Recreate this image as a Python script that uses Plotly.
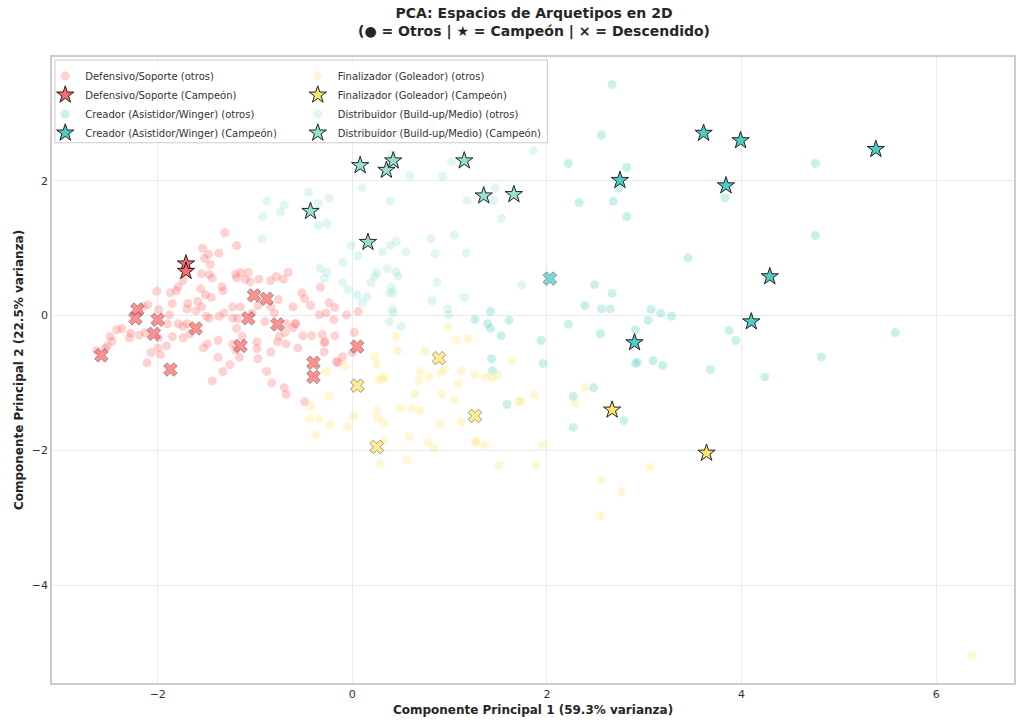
import plotly.graph_objects as go

# ---------------- data (PCA coordinates) ----------------
def_otros_x = [-1.31,-1.19,-1.54,-1.48,-1.37,-1.52,-1.46,-1.74,-1.55,-1.47,-1.44,-1.20,-1.15,-1.07,-1.19,-1.10,-1.05,-0.96,-0.84,-0.78,-0.71,-0.66,
               -2.01,-1.87,-1.79,-1.81,-1.56,-1.51,-1.45,-1.34,-1.33,-1.85,-1.69,-1.59,-1.55,-1.61,-1.70,-2.10,-2.15,-1.99,-1.88,-1.90,-1.79,-1.74,-1.70,
               -1.50,-1.47,-1.37,-1.32,-1.23,-1.15,-1.23,-1.18,-1.03,-0.97,-0.84,-0.80,-0.76,-0.61,-0.52,-0.49,-0.43,-0.33,-0.24,-0.18,-0.34,-0.27,-0.19,
               -0.06,0.06,0.02,-2.42,-2.37,-2.49,-2.47,-2.52,-2.63,-2.54,-2.28,-2.29,-2.19,-2.13,-1.99,-2.00,-1.91,-1.97,-2.07,-2.11,-1.85,-1.74,-1.67,
               -1.53,-1.49,-1.38,-1.38,-1.26,-1.33,-1.44,-1.23,-1.19,-1.13,-1.20,-1.16,-0.98,-0.98,-0.97,-0.88,-0.83,-0.84,-0.90,-0.75,-0.77,-0.68,-0.69,
               -0.61,-0.58,-0.56,-0.70,-0.68,-0.49,-0.51,-0.42,-0.31,-0.28,-0.29,-0.18,-0.10,-0.15,0.00,-0.68,-0.59,-0.29,-0.16]
def_otros_y = [1.23,1.04,1.00,0.91,0.93,0.85,0.76,0.52,0.62,0.61,0.56,0.61,0.64,0.64,0.56,0.54,0.50,0.54,0.52,0.58,0.54,0.64,
               0.36,0.34,0.43,0.37,0.40,0.31,0.27,0.43,0.37,0.18,0.18,0.21,0.13,0.07,0.10,0.16,0.13,0.09,0.01,-0.12,-0.12,-0.16,-0.12,
               -0.01,-0.04,-0.01,0.04,0.13,0.13,-0.04,-0.04,0.04,0.15,0.13,0.04,0.24,0.13,0.34,0.25,0.15,0.42,0.19,0.12,0.01,0.04,-0.06,
               0.01,0.06,-0.25,-0.21,-0.19,-0.31,-0.38,-0.45,-0.52,-0.49,-0.26,-0.33,-0.29,-0.25,-0.33,-0.48,-0.45,-0.58,-0.55,-0.70,-0.31,-0.33,-0.27,
               -0.48,-0.42,-0.37,-0.62,-0.73,-0.83,-0.97,-0.42,-0.19,-0.31,-0.51,-0.62,-0.39,-0.49,-0.64,-0.83,-1.00,-0.54,-0.09,-0.31,-0.39,-0.42,-0.25,
               -0.18,-0.12,-0.48,-1.07,-1.17,-1.28,-0.30,-0.30,-0.28,-0.39,-0.54,-0.30,-0.61,-0.70,-0.55,-0.12,-0.12,-0.40,-0.68]
def_camp_x = [-1.71, -1.71]
def_camp_y = [0.77, 0.66]
def_desc_x = [-2.21,-2.23,-2.00,-2.04,-1.61,-2.58,-1.87,-1.01,-0.88,-1.07,-0.77,-1.15,-0.40,-0.40,0.05]
def_desc_y = [0.09,-0.04,-0.06,-0.27,-0.19,-0.59,-0.80,0.30,0.25,-0.04,-0.13,-0.45,-0.70,-0.91,-0.46]

fin_otros_x = [0.98,0.45,1.07,1.19,0.75,0.47,0.23,0.25,-0.08,-0.27,0.27,0.33,0.31,0.70,0.79,0.68,0.91,0.95,1.12,1.26,1.09,1.37,1.44,1.49,
               1.64,0.64,0.92,1.05,-0.24,-0.43,-0.44,-0.34,-0.23,-0.37,-0.05,0.01,0.25,0.26,0.33,0.49,0.61,0.69,0.90,1.12,0.58,0.32,0.78,0.84,
               1.27,1.27,1.36,1.73,1.87,1.96,0.29,0.56,1.51,1.89,2.56,2.77,2.55,2.39,2.29,3.06,1.71,6.37]
fin_otros_y = [-0.17,-0.31,-0.37,-0.34,-0.52,-0.52,-0.61,-0.73,-0.74,-0.83,-0.95,-0.91,-0.94,-0.83,-0.91,-0.96,-0.85,-0.79,-0.82,-0.88,-1.01,-0.91,-0.93,-0.88,
               -0.67,-1.16,-1.16,-1.25,-1.20,-1.35,-1.53,-1.53,-1.62,-1.77,-1.65,-1.49,-1.41,-1.53,-1.59,-1.37,-1.38,-1.41,-1.61,-1.58,-1.80,-1.87,-1.89,-1.97,
               -1.86,-1.89,-1.93,-1.27,-1.18,-1.92,-2.20,-2.14,-2.23,-2.22,-2.44,-2.62,-2.97,-1.06,-1.30,-2.25,-1.27,-5.05]
fin_camp_x = [2.67, 3.64]
fin_camp_y = [-1.40, -2.04]
fin_desc_x = [0.05, 0.89, 1.26, 0.25]
fin_desc_y = [-1.04, -0.63, -1.49, -1.95]

cre_otros_x = [2.67,2.56,2.22,2.82,2.74,2.33,2.68,2.82,3.83,4.76,4.76,3.45,2.49,2.67,2.39,2.56,2.65,3.07,3.17,3.28,3.04,2.22,2.55,2.91,
               3.87,3.94,5.58,1.94,1.96,2.91,2.93,3.09,3.19,3.68,4.82,4.24,2.48,2.27,2.79,2.27,1.26,1.42,1.39,1.42,1.61,1.53,1.43,1.44,1.59]
cre_otros_y = [3.43,2.68,2.26,2.20,1.89,1.68,1.70,1.47,1.75,2.26,1.19,0.86,0.46,0.33,0.15,0.10,0.10,0.09,0.03,-0.01,-0.07,-0.13,-0.27,-0.21,
               -0.22,-0.37,-0.25,-0.37,-0.71,-0.71,-0.69,-0.67,-0.74,-0.80,-0.61,-0.91,-1.07,-1.20,-1.56,-1.66,-0.06,0.06,-0.12,-0.19,-0.07,-0.30,-0.64,-0.82,-1.32]
cre_camp_x = [3.61, 3.99, 5.38, 3.84, 2.75, 4.29, 4.10, 2.90]
cre_camp_y = [2.71, 2.60, 2.47, 1.93, 2.01, 0.58, -0.09, -0.40]
cre_desc_x = [2.03]
cre_desc_y = [0.55]

dis_otros_x = [-0.07,0.81,1.15,1.63,1.86,0.41,1.02,0.59,0.93,0.10,0.39,1.18,1.47,1.45,1.53,-0.45,-0.35,-0.24,-0.88,-0.70,-0.74,-0.92,-0.35,-0.26,
               -0.93,-0.01,0.39,0.45,0.81,1.05,0.55,0.31,0.06,0.85,1.17,-0.10,-0.33,-0.26,-0.29,-0.10,-0.04,0.25,0.23,0.19,0.36,0.45,0.47,0.05,0.15,
               0.10,0.40,0.38,0.42,0.87,0.82,1.15,1.74,0.41,0.42,0.38,0.50,0.98,0.99]
dis_otros_y = [2.66,2.81,2.71,2.66,2.45,2.39,2.28,2.08,2.07,1.90,1.70,1.71,1.90,1.71,1.44,1.83,1.67,1.75,1.70,1.64,1.53,1.47,1.34,1.37,
               1.14,1.04,1.04,1.10,1.14,1.20,0.95,0.95,0.89,0.92,0.93,0.79,0.70,0.64,0.55,0.49,0.39,0.64,0.58,0.49,0.70,0.65,0.59,0.31,0.28,
               0.19,0.42,0.34,0.34,0.49,0.22,0.27,0.45,0.09,0.04,-0.09,-0.16,0.10,0.01]
dis_camp_x = [0.08, 0.42, 0.35, 1.15, 1.35, 1.66, -0.43, 0.16]
dis_camp_y = [2.23, 2.30, 2.16, 2.30, 1.78, 1.80, 1.55, 1.09]
dis_desc_x = []
dis_desc_y = []

groups = [
    ("Defensivo/Soporte", "#FF6B6B", def_otros_x, def_otros_y, def_camp_x, def_camp_y, def_desc_x, def_desc_y, "legend"),
    ("Creador (Asistidor/Winger)", "#4ECDC4", cre_otros_x, cre_otros_y, cre_camp_x, cre_camp_y, cre_desc_x, cre_desc_y, "legend"),
    ("Finalizador (Goleador)", "#FFE66D", fin_otros_x, fin_otros_y, fin_camp_x, fin_camp_y, fin_desc_x, fin_desc_y, "legend2"),
    ("Distribuidor (Build-up/Medio)", "#95E1D3", dis_otros_x, dis_otros_y, dis_camp_x, dis_camp_y, dis_desc_x, dis_desc_y, "legend2"),
]

fig = go.Figure()
for name, col, ox, oy, cx, cy, dx, dy, leg in groups:
    fig.add_trace(go.Scatter(x=ox, y=oy, mode="markers", name=f"{name} (otros)", legend=leg,
                             marker=dict(color=col, size=9, opacity=0.3, line=dict(width=0))))
    fig.add_trace(go.Scatter(x=cx, y=cy, mode="markers", name=f"{name} (Campeón)", legend=leg,
                             marker=dict(color=col, size=13, symbol="star", opacity=1,
                                         line=dict(color="#222222", width=1))))
    if dx:
        fig.add_trace(go.Scatter(x=dx, y=dy, mode="markers", showlegend=False,
                                 marker=dict(color=col, size=12, symbol="x", opacity=0.75,
                                             line=dict(color="#555555", width=0.8))))

axis_common = dict(showgrid=True, gridcolor="#ebebeb", gridwidth=1, zeroline=False,
                   showline=True, linecolor="#cccccc", linewidth=1.5, mirror=True,
                   ticks="", tickfont=dict(family="DejaVu Sans", size=11, color="#333333"))

fig.update_layout(
    width=1024, height=728,
    margin=dict(l=52, r=8, t=57, b=45),
    paper_bgcolor="white", plot_bgcolor="white",
    font=dict(family="DejaVu Sans", color="#333333"),
    title=dict(text="<b>PCA: Espacios de Arquetipos en 2D<br>(● = Otros | ★ = Campeón | × = Descendido)</b>",
               x=0.5215, xanchor="center", y=0.975, yanchor="top",
               font=dict(family="DejaVu Sans", size=14, color="#262626")),
    xaxis=dict(range=[-3.087, 6.80], tickvals=[-2, 0, 2, 4, 6],
               title=dict(text="<b>Componente Principal 1 (59.3% varianza)</b>", standoff=6,
                          font=dict(family="DejaVu Sans", size=12, color="#262626")), **axis_common),
    yaxis=dict(range=[-5.455, 3.84], tickvals=[-4, -2, 0, 2],
               title=dict(text="<b>Componente Principal 2 (22.5% varianza)</b>", standoff=6,
                          font=dict(family="DejaVu Sans", size=12, color="#262626")), **axis_common),
    legend=dict(x=-0.007, y=0.993, xanchor="left", yanchor="top", bgcolor="rgba(0,0,0,0)",
                borderwidth=0, tracegroupgap=0, font=dict(family="DejaVu Sans", size=10, color="#333333")),
    legend2=dict(x=0.2555, y=0.993, xanchor="left", yanchor="top", bgcolor="rgba(0,0,0,0)",
                 borderwidth=0, tracegroupgap=0, font=dict(family="DejaVu Sans", size=10, color="#333333")),
    shapes=[dict(type="rect", xref="paper", yref="paper", x0=0.003, x1=0.515, y0=0.863, y1=0.995,
                 line=dict(color="#cccccc", width=1), fillcolor="rgba(255,255,255,0.8)", layer="above")],
)

fig.write_html("out.html")
